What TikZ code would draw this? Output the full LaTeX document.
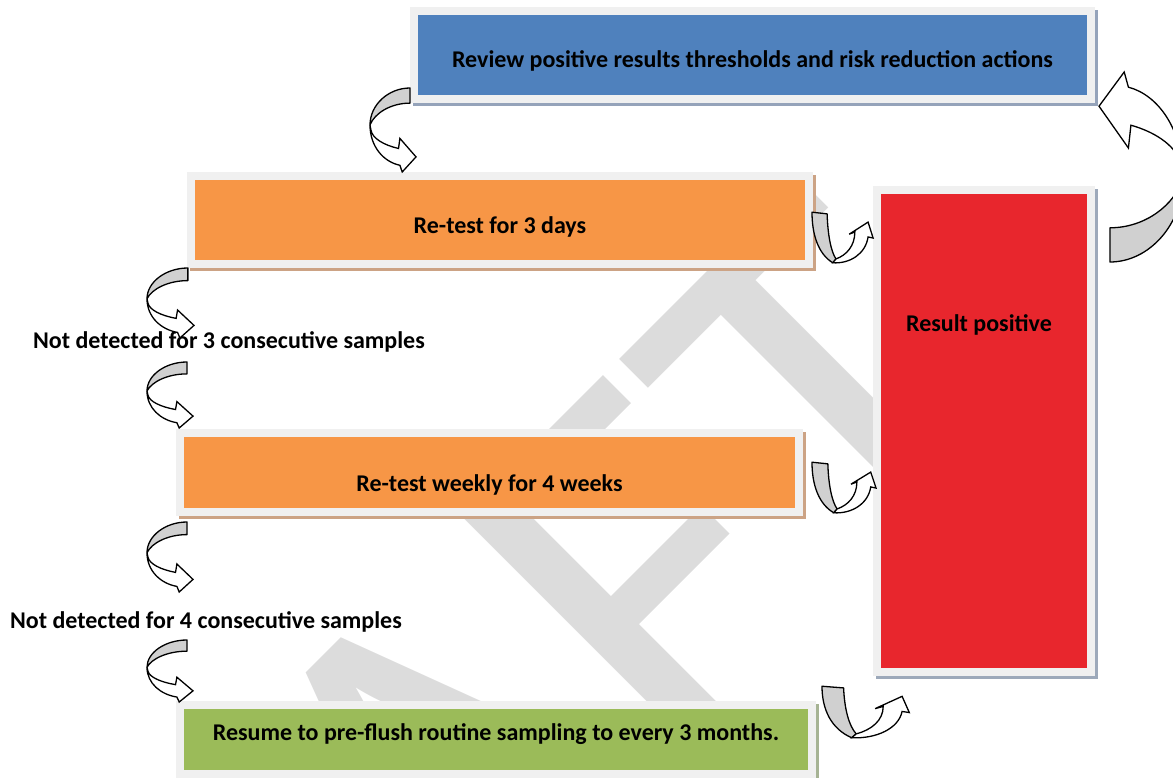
\documentclass[tikz,border=0pt]{standalone}
\usepackage{fontspec}
\setmainfont{Carlito}
\usetikzlibrary{backgrounds,calc}
\definecolor{framegray}{HTML}{F0F0F0}
\definecolor{bluefill}{HTML}{4F81BD}
\definecolor{blueshadow}{HTML}{95A3BA}
\definecolor{orangefill}{HTML}{F79646}
\definecolor{orangeshadow}{HTML}{CCA385}
\definecolor{redfill}{HTML}{E8262D}
\definecolor{redshadow}{HTML}{9DA9BA}
\definecolor{greenfill}{HTML}{9BBB59}
\definecolor{greenshadow}{HTML}{A6B394}
\definecolor{curlgray}{HTML}{D0D0D0}
\definecolor{wmgray}{HTML}{DCDCDC}
\tikzset{
  box/.style={rectangle, inner sep=0pt, outer sep=0pt, text=black, align=center,
    font=\fontsize{24}{28}\selectfont\bfseries},
  lbl/.style={inner sep=0pt, text=black, font=\fontsize{24}{28}\selectfont\bfseries},
  curlback/.style={fill=curlgray, draw=black, line width=1.3pt, line join=round},
  curlfront/.style={fill=white, draw=black, line width=1.3pt, line join=miter},
  wmark/.style={inner sep=0pt, text=wmgray, font=\fontsize{550}{600}\selectfont},
}
\newcommand\drawframe[2]{%
  \fill[#2] ($(#1.north west)+(-5,-5)$) rectangle ($(#1.south east)+(11,11)$);
  \fill[framegray] ($(#1.north west)+(-8,-8)$) rectangle ($(#1.south east)+(8,8)$);
}
\newcommand\leftcurl{%
  \filldraw[curlback] (0.87,0) .. controls (0.4,0) and (0,0.2) .. (0,0.44)
     .. controls (0.1,0.3) and (0.45,0.18) .. (0.87,0.18) -- cycle;
  \filldraw[curlfront] (0,0.44) .. controls (0,0.7) and (0.3,0.88) .. (0.65,0.92)
     -- (0.7,1) -- (1,0.82) -- (0.65,0.6) -- (0.62,0.72)
     .. controls (0.3,0.68) and (0.05,0.6) .. (0.02,0.5) -- cycle;
}
\newcommand\ucurl{%
  \filldraw[curlback] (0,0.04) -- (0.24,0.07) .. controls (0.25,0.45) and (0.3,0.75) .. (0.38,0.89)
     -- (0.33,0.96) .. controls (0.1,0.8) and (0,0.45) .. (0,0.04) -- cycle;
  \filldraw[curlfront] (0.33,0.96) .. controls (0.6,0.98) and (0.85,0.8) .. (0.89,0.49)
     -- (0.97,0.51) -- (0.89,0.22) -- (0.59,0.44) -- (0.68,0.40)
     .. controls (0.68,0.65) and (0.55,0.82) .. (0.38,0.89) -- cycle;
}
\begin{document}
\begin{tikzpicture}[x=1pt,y=-1pt]
\useasboundingbox (0,0) rectangle (1173,778);
\clip (0,0) rectangle (1173,778);

% boxes
\node[box, fill=bluefill, minimum width=669pt, minimum height=80pt, text height=30pt, text depth=4.6pt]
  (review) at (752.5,55) {Review positive results thresholds and risk reduction actions};
\node[box, fill=orangefill, minimum width=610pt, minimum height=80pt, text height=32pt, text depth=4.6pt]
  (retest3) at (500,220) {Re-test for 3 days};
\node[box, fill=orangefill, minimum width=611pt, minimum height=71pt, text height=43pt, text depth=4.6pt]
  (weekly) at (489.5,472.5) {Re-test weekly for 4 weeks};
\node[box, fill=greenfill, minimum width=624pt, minimum height=61pt, text height=12.4pt, text depth=10pt]
  (resume) at (496,739.5) {Resume to pre-flush routine sampling to every 3 months.};
\node[box, fill=redfill, minimum width=206pt, minimum height=474pt, text height=10pt, text depth=208.6pt]
  (positive) at (984,431) {\hspace*{-10pt}Result positive};

\node[lbl] (nd3) at (229,342) {Not detected for 3 consecutive samples};
\node[lbl] (nd4) at (206,622) {Not detected for 4 consecutive samples};

\begin{scope}[on background layer]
  \node[wmark, rotate=45, anchor=base west] (wm) at (10,1468) {DRAFT};
  \drawframe{review}{blueshadow}
  \drawframe{retest3}{orangeshadow}
  \drawframe{weekly}{orangeshadow}
  \drawframe{resume}{greenshadow}
  \drawframe{positive}{redshadow}
\end{scope}

% curved arrows
\coordinate (c1) at (370,88);
\coordinate (c2) at (147,268);
\coordinate (c3) at (147,362);
\coordinate (c4) at (147,522);
\coordinate (c5) at (147,640);
\coordinate (c6) at (812,210);
\coordinate (c7) at (812,460);
\coordinate (c8) at (822,684);
\coordinate (c9) at (1183,262);
\begin{scope}[shift={(c1)}, xscale=46, yscale=84]\leftcurl\end{scope}
\begin{scope}[shift={(c2)}, xscale=47, yscale=70]\leftcurl\end{scope}
\begin{scope}[shift={(c3)}, xscale=46, yscale=66]\leftcurl\end{scope}
\begin{scope}[shift={(c4)}, xscale=46, yscale=70]\leftcurl\end{scope}
\begin{scope}[shift={(c5)}, xscale=46, yscale=62]\leftcurl\end{scope}
\begin{scope}[shift={(c6)}, xscale=63, yscale=55]\ucurl\end{scope}
\begin{scope}[shift={(c7)}, xscale=66, yscale=55]\ucurl\end{scope}
\begin{scope}[shift={(c8)}, xscale=90, yscale=56]\ucurl\end{scope}
\begin{scope}[shift={(c9)}, xscale=-84, yscale=-190]\leftcurl\end{scope}
\end{tikzpicture}
\end{document}
